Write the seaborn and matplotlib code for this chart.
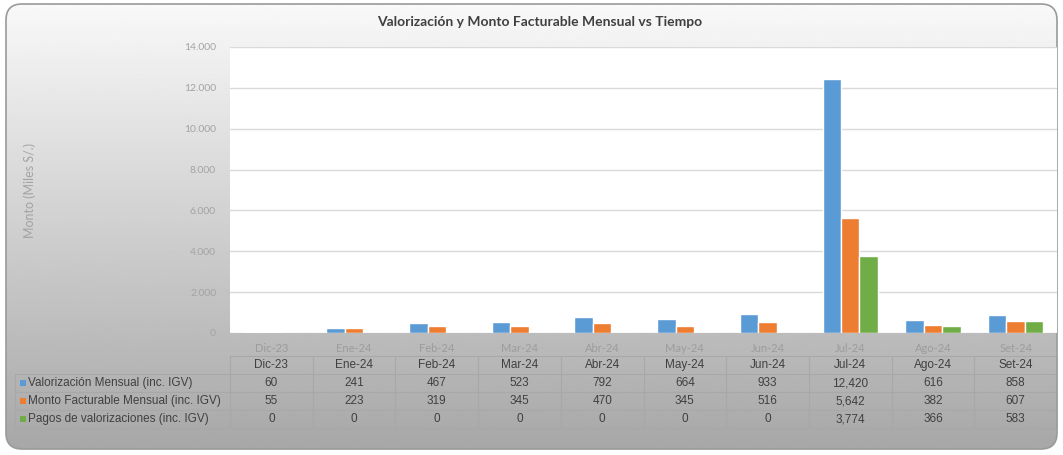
import numpy as np
import pandas as pd
import matplotlib.pyplot as plt
import seaborn as sns
from matplotlib.patches import FancyBboxPatch, Rectangle
from matplotlib.transforms import blended_transform_factory
from matplotlib.ticker import FuncFormatter

meses = ['Dic-23', 'Ene-24', 'Feb-24', 'Mar-24', 'Abr-24', 'May-24',
         'Jun-24', 'Jul-24', 'Ago-24', 'Set-24']
series = ['Valorización Mensual (inc. IGV)',
          'Monto Facturable Mensual (inc. IGV)',
          'Pagos de valorizaciones (inc. IGV)']
valorizacion = [60, 241, 467, 523, 792, 664, 933, 12420, 616, 858]
facturable = [55, 223, 319, 345, 470, 345, 516, 5642, 382, 607]
pagos = [0, 0, 0, 0, 0, 0, 0, 3774, 366, 583]
colores = ['#5b9bd5', '#ed7d31', '#70ad47']

W, H = 1063, 455

df = pd.DataFrame({
    'Mes': meses * 3,
    'Serie': [series[0]] * 10 + [series[1]] * 10 + [series[2]] * 10,
    'Monto': valorizacion + facturable + pagos,
})

sns.set_theme(style='white')
plt.rcParams['font.family'] = ['Lato', 'DejaVu Sans']

fig = plt.figure(figsize=(W / 100, H / 100), dpi=100)
fig.patch.set_facecolor('white')

# rounded grey gradient frame
bg = fig.add_axes([0, 0, 1, 1])
bg.set_xlim(0, W)
bg.set_ylim(H, 0)
bg.axis('off')
frame = FancyBboxPatch((6, 4), W - 12, H - 10, boxstyle='round,pad=0,rounding_size=16',
                       facecolor='none', edgecolor='#9a9a9a', linewidth=1.2, zorder=3)
bg.add_patch(frame)
grad = np.linspace(0.975, 0.655, 256).reshape(-1, 1)
img = bg.imshow(grad, cmap='gray', vmin=0, vmax=1, extent=(6, W - 6, H - 6, 4),
                aspect='auto', zorder=1)
img.set_clip_path(frame)

# plot area
left, right, top, base = 230, 1057, 47, 333
ax = fig.add_axes([left / W, 1 - base / H, (right - left) / W, (base - top) / H])
ax.set_facecolor('white')
sns.barplot(data=df, x='Mes', y='Monto', hue='Serie', palette=colores,
            width=0.67, gap=0, ax=ax, legend=False, saturation=1)
ax.set_ylim(0, 14000)
ax.set_yticks(range(0, 14001, 2000))
ax.yaxis.set_major_formatter(FuncFormatter(lambda v, p: f'{int(v):,}'.replace(',', '.')))
ax.yaxis.grid(True, color='#d9d9d9', linewidth=1)
ax.set_axisbelow(True)
for s in ax.spines.values():
    s.set_visible(False)
ax.tick_params(axis='both', length=0, colors='#a3a3a3', labelsize=7.5)
ax.tick_params(axis='x', pad=7)
ax.tick_params(axis='y', pad=10)
for t in ax.get_xticklabels():
    t.set_color('#9c9c9c')
    t.set_fontsize(8)
ax.set_xlabel('')
ax.set_ylabel('')
ax.set_xlim(-0.5, 9.5)

fig.text(30 / W, 1 - 190 / H, 'Monto (Miles S/.)', rotation=90, ha='center', va='center',
         color='#a3a3a3', fontsize=9)
fig.text(540 / W, 1 - 22 / H, 'Valorización y Monto Facturable Mensual vs Tiempo',
         ha='center', va='center', fontsize=10, fontweight='bold', color='#404040')

# data table below the axis
tr = blended_transform_factory(ax.transData, fig.transFigure)
fy = lambda py: 1 - py / H
tfont = dict(family=['Liberation Sans', 'DejaVu Sans'], fontsize=8.5, color='#404040')
line_kw = dict(color='#a8a8a8', linewidth=0.8, clip_on=False)

rows_y = [365, 383, 401, 419]
edges_y = [356, 374, 392, 410, 428]
# horizontal lines
ax.plot([-0.5, 9.5], [fy(edges_y[0])] * 2, transform=tr, **line_kw)
for ey in edges_y[1:]:
    bg.plot([15, right], [ey, ey], **line_kw)
# vertical lines
for k in range(11):
    ax.plot([k - 0.5, k - 0.5], [fy(edges_y[0]), fy(edges_y[-1])], transform=tr, **line_kw)
bg.plot([15, 15], [edges_y[1], edges_y[-1]], **line_kw)

for i, m in enumerate(meses):
    ax.text(i, fy(rows_y[0]), m, transform=tr, ha='center', va='center', **tfont)
for r, (nombre, vals, col) in enumerate(zip(series, [valorizacion, facturable, pagos], colores)):
    yy = rows_y[r + 1]
    bg.add_patch(Rectangle((20, yy - 3), 6, 6, facecolor=col, edgecolor='none', zorder=4))
    bg.text(28, yy, nombre, ha='left', va='center', **tfont)
    for i, v in enumerate(vals):
        ax.text(i, fy(yy), f'{v:,}', transform=tr, ha='center', va='center', **tfont)

fig.savefig('out.png', dpi=100)
